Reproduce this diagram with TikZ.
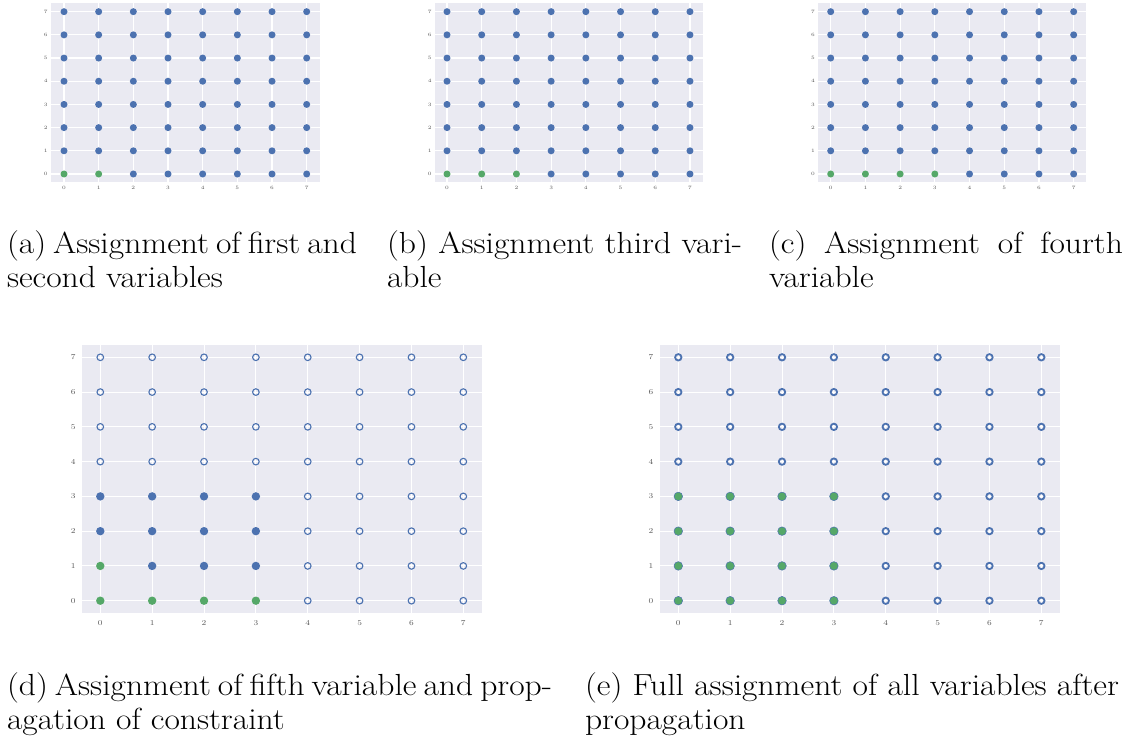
\documentclass[tikz,border=0pt]{standalone}
\usepackage{fontspec}
\setmainfont{Latin Modern Roman}[FakeStretch=1.1]
\definecolor{sbbg}{HTML}{EAEAF2}
\definecolor{sbblue}{HTML}{4C72B0}
\definecolor{sbgreen}{HTML}{55A868}
\definecolor{ticktext}{HTML}{555555}
\tikzset{
  gridline/.style={draw=white, line width=#1},
  ticklab/.style={inner sep=0pt, text=ticktext, font=\fontsize{\tickfs}{\tickfs}\selectfont},
  mk/.style={circle, inner sep=0pt, outer sep=0pt},
  t1/.style={mk, fill=sbblue, minimum size=7pt},
  t2/.style={mk, fill=sbgreen, minimum size=7pt},
  d0/.style={mk, draw=sbblue, line width=1.1pt, minimum size=6.6pt},
  d1/.style={mk, fill=sbblue, minimum size=8.4pt},
  d2/.style={mk, fill=sbgreen, minimum size=8.4pt},
  e0/.style={mk, draw=sbblue, line width=1.8pt, minimum size=6.4pt},
  e2/.style={mk, fill=sbgreen, draw=sbblue, line width=0.5pt, minimum size=8.6pt},
  captext/.style={inner sep=0pt, outer sep=0pt, align=justify, anchor=base west,
    font=\fontsize{30.5}{34.8}\selectfont}
}
% #1 name, #2 left, #3 top, #4 right, #5 bottom, #6 col0 x, #7 dx, #8 row0 y, #9 dy
\newcommand\sbframe[9]{%
  \fill[sbbg] (#2,#3) rectangle (#4,#5);
  \foreach \k in {0,...,7}{%
    \pgfmathsetmacro\xx{#6+#7*\k}%
    \pgfmathsetmacro\yy{#8-#9*\k}%
    \pgfmathsetmacro\yl{#5+\xgap}%
    \pgfmathsetmacro\xl{#2-\ygap}%
    \draw[gridline=\glw] (\xx,#3) -- (\xx,#5);
    \draw[gridline=\glw] (#2,\yy) -- (#4,\yy);
    \node[ticklab] (#1x\k) at (\xx,\yl) {\k};
    \node[ticklab] (#1y\k) at (\xl,\yy) {\k};
  }%
}
\begin{document}
\begin{tikzpicture}[x=1pt,y=-1pt]
\useasboundingbox (0,0) rectangle (1130,749);

% ---------- top row ----------
\def\xgap{6}\def\ygap{5.3}\def\glw{1.2pt}\def\tickfs{5}
\sbframe{a}{51}{3.3}{319.7}{182}{64}{34.67}{174}{23.19}
\sbframe{b}{435}{3.3}{703}{182}{447}{34.71}{174}{23.19}
\sbframe{c}{818.3}{3.3}{1086.3}{182}{830.7}{34.71}{174}{23.19}

\foreach \i in {0,...,7}{\foreach \j in {0,...,7}{
  \pgfmathtruncatemacro\st{ifthenelse(and(\j==0,\i<2),2,1)}
  \node[t\st] (pa\i\j) at ({64+34.67*\i},{174-23.19*\j}) {};
  \pgfmathtruncatemacro\st{ifthenelse(and(\j==0,\i<3),2,1)}
  \node[t\st] (pb\i\j) at ({447+34.71*\i},{174-23.19*\j}) {};
  \pgfmathtruncatemacro\st{ifthenelse(and(\j==0,\i<4),2,1)}
  \node[t\st] (pc\i\j) at ({830.7+34.71*\i},{174-23.19*\j}) {};
}}

% ---------- bottom row ----------
\def\xgap{10}\def\ygap{9}\def\glw{1pt}\def\tickfs{7.5}
\sbframe{d}{82.3}{345}{482}{612.7}{100.3}{51.86}{600.7}{34.77}
\sbframe{e}{660}{345}{1059.5}{612.7}{678.3}{51.86}{600.7}{34.77}

\foreach \i in {0,...,7}{\foreach \j in {0,...,7}{
  \pgfmathtruncatemacro\st{ifthenelse(and(\j==0,\i<4),2,ifthenelse(and(\i==0,\j==1),2,ifthenelse(and(\i<4,\j<4),1,0)))}
  \node[d\st] (pd\i\j) at ({100.3+51.86*\i},{600.7-34.77*\j}) {};
  \pgfmathtruncatemacro\st{ifthenelse(and(\i<4,\j<4),2,0)}
  \node[e\st] (pe\i\j) at ({678.3+51.86*\i},{600.7-34.77*\j}) {};
}}

% ---------- captions ----------
\node[captext, text width=350pt] (capa) at (7,253) {(a) Assignment of first and\linebreak second variables};
\node[captext, text width=355pt] (capb) at (387,253) {(b) Assignment third vari-\linebreak able};
\node[captext, text width=354pt] (capc) at (769,253) {(c) Assignment of fourth\linebreak variable};
\node[captext, text width=545pt] (capd) at (7,695) {(d) Assignment of fifth variable and prop-\linebreak agation of constraint};
\node[captext, text width=534pt] (cape) at (585,695) {(e) Full assignment of all variables after\linebreak propagation};
\end{tikzpicture}
\end{document}
